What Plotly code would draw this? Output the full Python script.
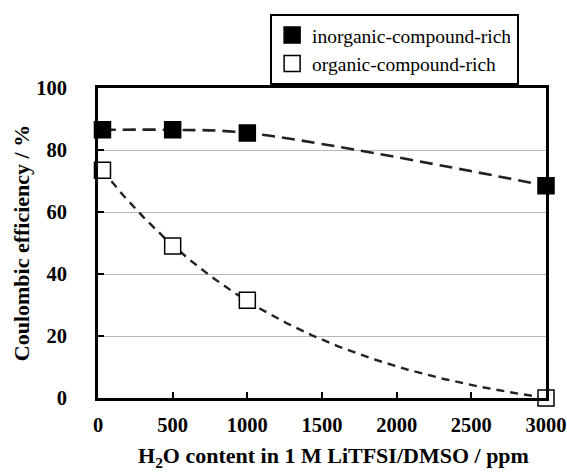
import numpy as np
import plotly.graph_objects as go

# H2O content (ppm) and Coulombic efficiency (%)
water_ppm = [30, 500, 1000, 3000]
ce_inorganic = [86.5, 86.5, 85.5, 68.5]
ce_organic = [73.5, 49.0, 31.5, 0.0]

x_ticks = [0, 500, 1000, 1500, 2000, 2500, 3000]
y_ticks = [0, 20, 40, 60, 80, 100]

SERIF = "Liberation Serif"


def exp_decay_fit(x, y, n=400):
    """Least-squares fit of y = A*exp(-k*x) + C (grid over k, linear in A, C)."""
    x = np.asarray(x, float)
    y = np.asarray(y, float)
    best = None
    for k in np.linspace(1e-5, 5e-3, 4000):
        M = np.column_stack([np.exp(-k * x), np.ones_like(x)])
        coef, *_ = np.linalg.lstsq(M, y, rcond=None)
        err = np.sum((M @ coef - y) ** 2)
        if best is None or err < best[0]:
            best = (err, k, coef)
    _, k, (A, C) = best
    xs = np.linspace(x.min(), x.max(), n)
    return xs, A * np.exp(-k * xs) + C


x_org_fit, y_org_fit = exp_decay_fit(water_ppm, ce_organic)

fig = go.Figure()
# smooth guide line for the inorganic-rich series
fig.add_trace(go.Scatter(x=water_ppm, y=ce_inorganic, mode="lines", showlegend=False,
                         line=dict(color="#222", width=2.6, dash="13px,7px",
                                   shape="spline", smoothing=1),
                         hoverinfo="skip"))
# decay trend line for the organic-rich series
fig.add_trace(go.Scatter(x=x_org_fit, y=y_org_fit, mode="lines", showlegend=False,
                         line=dict(color="#222", width=2.4, dash="8px,6px"),
                         hoverinfo="skip"))
fig.add_trace(go.Scatter(x=water_ppm, y=ce_inorganic, mode="markers",
                         name="inorganic-compound-rich", cliponaxis=False,
                         marker=dict(symbol="square", size=16, color="black",
                                     line=dict(color="black", width=1.5))))
fig.add_trace(go.Scatter(x=water_ppm, y=ce_organic, mode="markers",
                         name="organic-compound-rich", cliponaxis=False,
                         marker=dict(symbol="square", size=16, color="white",
                                     line=dict(color="black", width=1.5))))

fig.update_layout(
    width=567, height=473,
    margin=dict(l=98, r=21, t=88, b=75),
    plot_bgcolor="white", paper_bgcolor="white",
    font=dict(family=SERIF, color="black"),
    legend=dict(x=0.94, y=1.239, xanchor="right", yanchor="top",
                bordercolor="black", borderwidth=2, bgcolor="white",
                font=dict(family=SERIF, size=19.5, color="black"),
                itemwidth=30, tracegroupgap=0),
    annotations=[dict(
        text="H<sub>2</sub>O content in 1 M LiTFSI/DMSO / ppm",
        xref="paper", yref="paper", x=0.525, y=-0.19,
        xanchor="center", yanchor="middle", showarrow=False,
        font=dict(family=SERIF, size=22, color="black", weight="bold"),
    )],
)
fig.update_xaxes(
    range=[0, 3000], tickvals=x_ticks, ticktext=[str(v) for v in x_ticks],
    showline=True, linecolor="black", linewidth=3, mirror=True,
    ticks="inside", ticklen=6, tickwidth=2, tickcolor="black",
    showgrid=False, zeroline=False, automargin=False,
    tickfont=dict(family=SERIF, size=20.5, color="black", weight="bold"),
    ticklabelstandoff=6,
)
fig.update_yaxes(
    range=[0, 100], tickvals=y_ticks, ticktext=[str(v) for v in y_ticks],
    showline=True, linecolor="black", linewidth=3, mirror=True,
    ticks="inside", ticklen=6, tickwidth=2, tickcolor="black",
    showgrid=True, gridcolor="#b8b8b8", gridwidth=1.2, zeroline=False,
    automargin=False,
    tickfont=dict(family=SERIF, size=20.5, color="black", weight="bold"),
    ticklabelstandoff=24,
    title=dict(text="Coulombic efficiency / %",
               font=dict(family=SERIF, size=22, color="black", weight="bold"),
               standoff=1),
)

fig.write_html("out.html")
